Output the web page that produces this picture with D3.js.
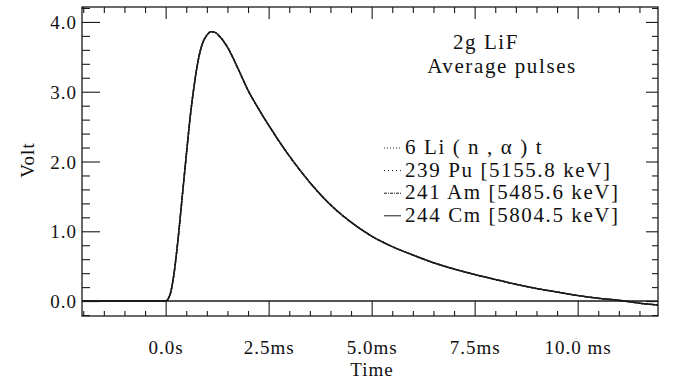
<!DOCTYPE html>
<html><head><meta charset="utf-8">
<script src="https://cdn.jsdelivr.net/npm/d3@7"></script>
<style>
body{margin:0;background:#fff;}
text{font-family:"Liberation Serif","Times New Roman",serif;fill:#111;}
</style></head>
<body><svg id="c" width="674" height="379"></svg>
<script>
// ---- data ----
const timeMs = [-2.0, 0.0, 0.1, 0.2, 0.3, 0.4, 0.5, 0.6, 0.7, 0.8, 0.9, 1.0, 1.1, 1.2, 1.3, 1.5, 1.75, 2.0, 2.25, 2.5, 3.0, 3.5, 4.0, 4.5, 5.0, 5.5, 6.0, 6.5, 7.0, 7.5, 8.0, 8.5, 9.0, 9.5, 10.0, 10.5, 11.0, 11.5, 12.0];
const li6   = [0, 0, 0.08, 0.38, 0.88, 1.48, 2.08, 2.66, 3.12, 3.48, 3.70, 3.81, 3.86, 3.85, 3.80, 3.64, 3.34, 3.02, 2.76, 2.52, 2.08, 1.70, 1.38, 1.13, 0.93, 0.78, 0.66, 0.55, 0.46, 0.38, 0.31, 0.24, 0.18, 0.13, 0.08, 0.04, 0.01, -0.03, -0.06];
const pu239 = [0, 0, 0.08, 0.38, 0.88, 1.48, 2.08, 2.66, 3.12, 3.48, 3.70, 3.81, 3.86, 3.85, 3.80, 3.64, 3.34, 3.02, 2.76, 2.52, 2.08, 1.70, 1.38, 1.13, 0.93, 0.78, 0.66, 0.55, 0.46, 0.38, 0.31, 0.24, 0.18, 0.13, 0.08, 0.04, 0.01, -0.03, -0.06];
const am241 = [0, 0, 0.08, 0.38, 0.88, 1.48, 2.08, 2.66, 3.12, 3.48, 3.70, 3.81, 3.86, 3.85, 3.80, 3.64, 3.34, 3.02, 2.76, 2.52, 2.08, 1.70, 1.38, 1.13, 0.93, 0.78, 0.66, 0.55, 0.46, 0.38, 0.31, 0.24, 0.18, 0.13, 0.08, 0.04, 0.01, -0.03, -0.06];
const cm244 = [0, 0, 0.08, 0.38, 0.88, 1.48, 2.08, 2.66, 3.12, 3.48, 3.70, 3.81, 3.86, 3.85, 3.80, 3.64, 3.34, 3.02, 2.76, 2.52, 2.08, 1.70, 1.38, 1.13, 0.93, 0.78, 0.66, 0.55, 0.46, 0.38, 0.31, 0.24, 0.18, 0.13, 0.08, 0.04, 0.01, -0.03, -0.06];
const seriesNames = ["6 Li ( n , \u03b1 ) t", "239 Pu  [5155.8 keV]", "241 Am [5485.6 keV]", "244 Cm [5804.5 keV]"];
const seriesDash = ["1,2", "1,3", "3,1,1,1", null];
const xTicks = [0, 2.5, 5.0, 7.5, 10.0];
const xTickLabels = ["0.0s", "2.5ms", "5.0ms", "7.5ms", "10.0 ms"];
const yTicks = [0, 1, 2, 3, 4];
const yTickLabels = ["0.0", "1.0", "2.0", "3.0", "4.0"];
const title1 = "2g LiF", title2 = "Average pulses";
const xTitle = "Time", yTitle = "Volt";

// ---- layout ----
const svg = d3.select("#c");
const L = 82, R = 658, T = 7, B = 316;
const FS = 21, LS = "1.6px", AFS = 19, ALS = "1px";
const x = d3.scaleLinear().domain([-2.03, 11.95]).range([L, R]);
const y = d3.scaleLinear().domain([-0.214, 4.214]).range([B, T]);

const ink = "#1a1a1a";
svg.append("rect").attr("x", L).attr("y", T).attr("width", R - L).attr("height", B - T)
  .attr("fill", "none").attr("stroke", ink).attr("stroke-width", 1.3);

const yMinor = d3.range(-0.2, 4.21, 0.2).filter(v => Math.abs(v - Math.round(v)) > 1e-6);
const xMinor = d3.range(-2.0, 12.0, 0.5).filter(v => Math.abs(v / 2.5 - Math.round(v / 2.5)) > 1e-6);

function axis(gen, tx, ty) {
  const g = svg.append("g").attr("transform", `translate(${tx},${ty})`).call(gen);
  g.select(".domain").remove();
  g.selectAll("line").attr("stroke", ink).attr("stroke-width", 1.1);
  return g;
}
// left
const gl = axis(d3.axisLeft(y).tickValues(yTicks).tickSize(-18).tickFormat((d, i) => yTickLabels[i]), L, 0);
gl.selectAll("text").attr("font-size", AFS).attr("font-family", "Liberation Serif").attr("fill", ink)
  .attr("letter-spacing", ALS).attr("x", -5).attr("dy", "0.35em");
axis(d3.axisLeft(y).tickValues(yMinor).tickSize(-8).tickFormat(""), L, 0);
// right
axis(d3.axisRight(y).tickValues(yTicks).tickSize(-12).tickFormat(""), R, 0);
axis(d3.axisRight(y).tickValues(yMinor).tickSize(-6).tickFormat(""), R, 0);
// bottom
const gb = axis(d3.axisBottom(x).tickValues(xTicks).tickSize(-15).tickFormat((d, i) => xTickLabels[i]), 0, B);
gb.selectAll("text").attr("font-size", AFS).attr("font-family", "Liberation Serif").attr("fill", ink)
  .attr("letter-spacing", ALS).attr("y", 38).attr("dy", "0");
axis(d3.axisBottom(x).tickValues(xMinor).tickSize(-5).tickFormat(""), 0, B);
// top
axis(d3.axisTop(x).tickValues(xTicks).tickSize(-12).tickFormat(""), 0, T);
axis(d3.axisTop(x).tickValues(xMinor).tickSize(-6).tickFormat(""), 0, T);

// zero line
svg.append("line").attr("x1", L).attr("x2", R).attr("y1", y(0)).attr("y2", y(0))
  .attr("stroke", ink).attr("stroke-width", 1.5);

// curves
const line = d3.line().x((d, i) => x(timeMs[i])).y(d => y(d)).curve(d3.curveMonotoneX);
const allSeries = [li6, pu239, am241, cm244];
svg.append("clipPath").attr("id", "clp").append("rect")
  .attr("x", L).attr("y", T).attr("width", R - L).attr("height", B - T);
allSeries.forEach((s, k) => {
  svg.append("path").attr("d", line(s)).attr("fill", "none").attr("stroke", ink)
    .attr("stroke-width", 1.5).attr("clip-path", "url(#clp)")
    .attr("stroke-dasharray", seriesDash[k]);
});

// titles
svg.append("text").attr("x", 486).attr("y", 49).attr("text-anchor", "middle").attr("font-size", FS).attr("letter-spacing", LS).text(title1);
svg.append("text").attr("x", 502).attr("y", 73).attr("text-anchor", "middle").attr("font-size", FS).attr("letter-spacing", LS).text(title2);

// legend
const legY0 = 154, legDy = 22.6, legX = 405;
seriesNames.forEach((n, k) => {
  const yy = legY0 + k * legDy;
  svg.append("text").attr("x", legX).attr("y", yy).attr("font-size", FS).attr("letter-spacing", LS).text(n);
  svg.append("line").attr("x1", legX - 21).attr("x2", legX - 4).attr("y1", yy - 6).attr("y2", yy - 6)
    .attr("stroke", ink).attr("stroke-width", 1).attr("stroke-dasharray", seriesDash[k]);
});

// axis titles
svg.append("text").attr("x", 372).attr("y", 376).attr("text-anchor", "middle").attr("font-size", AFS).attr("letter-spacing", ALS).text(xTitle);
svg.append("text").attr("transform", "translate(34,160) rotate(-90)").attr("text-anchor", "middle").attr("font-size", AFS).attr("letter-spacing", ALS).text(yTitle);
</script></body></html>
